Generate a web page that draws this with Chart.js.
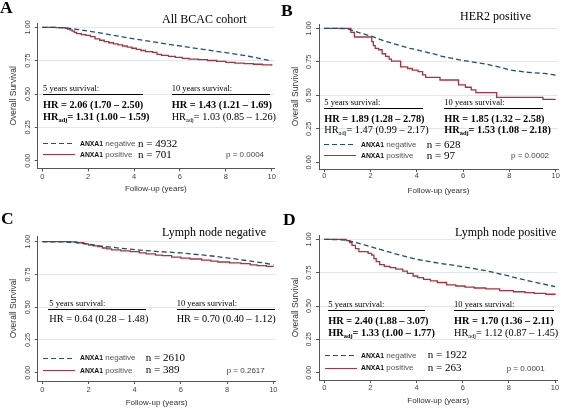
<!DOCTYPE html>
<html>
<head>
<meta charset="utf-8">
<script src="https://cdn.jsdelivr.net/npm/chart.js@4"></script>
<style>
  body { margin: 0; background: #fff; }
  #fig { position: relative; width: 561px; height: 408px; overflow: hidden; background: #fff; }
  canvas { position: absolute; }
  .t { position: absolute; white-space: nowrap; line-height: 1; }
  .serif { font-family: "Liberation Serif", "Times New Roman", serif; color: #000; }
  .sans { font-family: "Liberation Sans", Arial, sans-serif; }
  sub { font-size: 0.62em; vertical-align: -0.32em; line-height: 0; }
  .rule { position: absolute; height: 1.3px; background: #000; }
  .swatch { position: absolute; height: 1.3px; }
</style>
</head>
<body>
<div id="fig">
  <canvas id="pA" width="280" height="200" style="left:0;top:0"></canvas>
  <canvas id="pB" width="281" height="200" style="left:280px;top:0"></canvas>
  <canvas id="pC" width="280" height="208" style="left:0;top:200px"></canvas>
  <canvas id="pD" width="281" height="208" style="left:280px;top:200px"></canvas>
</div>
<script>
// axis ticks
const yearTicks = [0, 2, 4, 6, 8, 10];
const survTicks = [0, 0.25, 0.5, 0.75, 1];

// survival curves (time in years, overall survival)
const aNegT = [0, 0.5, 1, 1.5, 2, 2.5, 3, 3.5, 4, 4.5, 5, 5.5, 6, 6.5, 7, 7.5, 8, 8.5, 9, 9.5, 10];
const aNegS = [1, 0.999, 0.995, 0.985, 0.972, 0.958, 0.943, 0.928, 0.914, 0.900, 0.887, 0.873, 0.860, 0.848, 0.835, 0.822, 0.810, 0.797, 0.783, 0.766, 0.748];
const aPosT = [0, 0.6, 1.0, 1.1, 1.2, 1.3, 1.4, 1.5, 1.7, 1.9, 2.1, 2.3, 2.5, 2.7, 2.9, 3.1, 3.3, 3.5, 3.7, 3.9, 4.1, 4.3, 4.5, 4.8, 5.0, 5.2, 5.5, 5.8, 6.1, 6.4, 6.8, 7.2, 7.6, 8.0, 8.4, 8.8, 9.2, 9.6, 10.0];
const aPosS = [1, 0.997, 0.993, 0.987, 0.98, 0.972, 0.962, 0.952, 0.945, 0.94, 0.93, 0.913, 0.903, 0.893, 0.884, 0.876, 0.868, 0.86, 0.851, 0.843, 0.835, 0.826, 0.818, 0.812, 0.797, 0.79, 0.782, 0.775, 0.767, 0.762, 0.757, 0.751, 0.744, 0.737, 0.732, 0.727, 0.723, 0.718, 0.712];

const bNegT = [0, 0.9, 1.2, 1.5, 1.8, 2.1, 2.4, 2.7, 3.0, 3.4, 3.7, 4.0, 4.4, 4.8, 5.1, 5.5, 5.9, 6.2, 6.6, 7.0, 7.3, 7.7, 8.0, 8.4, 8.8, 9.1, 9.5, 10];
const bNegS = [1, 0.998, 0.985, 0.968, 0.952, 0.937, 0.918, 0.900, 0.885, 0.865, 0.851, 0.84, 0.822, 0.806, 0.79, 0.777, 0.763, 0.755, 0.743, 0.733, 0.721, 0.705, 0.69, 0.68, 0.672, 0.668, 0.663, 0.651];
const bPosT = [0, 1.15, 1.3, 2.05, 2.12, 2.2, 2.35, 2.5, 2.65, 2.8, 2.9, 3.3, 3.6, 3.8, 4.05, 4.25, 4.38, 5.0, 5.8, 6.1, 6.35, 6.55, 7.45, 9.45, 10];
const bPosS = [1, 0.97, 0.935, 0.9, 0.87, 0.85, 0.84, 0.81, 0.79, 0.77, 0.755, 0.712, 0.70, 0.688, 0.677, 0.652, 0.634, 0.614, 0.578, 0.56, 0.54, 0.52, 0.485, 0.47, 0.47];

const cNegT = [0, 1, 1.5, 2, 2.5, 3, 3.5, 4, 4.5, 5, 5.5, 6, 6.5, 7, 7.5, 8, 8.5, 9, 9.5, 10];
const cNegS = [1, 0.998, 0.993, 0.982, 0.968, 0.958, 0.948, 0.94, 0.932, 0.925, 0.92, 0.914, 0.905, 0.897, 0.888, 0.876, 0.865, 0.852, 0.84, 0.824];
const cPosT = [0, 1.2, 1.5, 1.8, 2.0, 2.2, 2.4, 2.6, 2.8, 3.0, 3.4, 3.8, 4.2, 4.5, 4.9, 5.2, 5.6, 6.0, 6.4, 6.9, 7.3, 7.6, 8.1, 8.6, 9.0, 9.3, 9.7, 10];
const cPosS = [1, 0.998, 0.992, 0.983, 0.975, 0.968, 0.962, 0.952, 0.945, 0.938, 0.93, 0.924, 0.915, 0.907, 0.898, 0.893, 0.882, 0.874, 0.868, 0.86, 0.852, 0.845, 0.838, 0.832, 0.823, 0.818, 0.812, 0.81];

const dNegT = [0, 0.5, 1, 1.5, 2, 2.5, 3, 3.5, 4, 4.5, 5, 5.5, 6, 6.5, 7, 7.5, 8, 8.5, 9, 9.5, 10];
const dNegS = [1, 0.998, 0.992, 0.97, 0.945, 0.92, 0.895, 0.872, 0.85, 0.835, 0.82, 0.808, 0.795, 0.78, 0.765, 0.745, 0.725, 0.703, 0.683, 0.665, 0.645];
const dPosT = [0, 0.95, 1.1, 1.2, 1.35, 1.5, 1.9, 2.05, 2.15, 2.25, 2.4, 2.6, 2.85, 3.1, 3.4, 3.6, 3.85, 4.05, 4.3, 4.6, 4.9, 5.3, 5.7, 6.1, 6.5, 7.0, 7.6, 8.2, 8.7, 9.1, 9.6, 10];
const dPosS = [1, 0.99, 0.975, 0.955, 0.93, 0.907, 0.895, 0.882, 0.855, 0.832, 0.81, 0.797, 0.787, 0.776, 0.762, 0.745, 0.725, 0.712, 0.70, 0.688, 0.676, 0.658, 0.65, 0.642, 0.635, 0.628, 0.615, 0.607, 0.60, 0.595, 0.588, 0.582];

// panel texts
const panelLetters = ["A", "B", "C", "D"];
const panelTitles = ["All BCAC cohort", "HER2 positive", "Lymph node negative", "Lymph node positive"];
const hr5 = ["2.06 (1.70 – 2.50)", "1.89 (1.28 – 2.78)", "0.64 (0.28 – 1.48)", "2.40 (1.88 – 3.07)"];
const hr5Bold = [true, true, false, true];
const adj5 = ["1.31 (1.00 – 1.59)", "1.47 (0.99 – 2.17)", null, "1.33 (1.00 – 1.77)"];
const adj5Bold = [true, false, false, true];
const hr10 = ["1.43 (1.21 – 1.69)", "1.85 (1.32 – 2.58)", "0.70 (0.40 – 1.12)", "1.70 (1.36 – 2.11)"];
const hr10Bold = [true, true, false, true];
const adj10 = ["1.03 (0.85 – 1.26)", "1.53 (1.08 – 2.18)", null, "1.12 (0.87 – 1.45)"];
const adj10Bold = [false, true, false, false];
const nNeg = [4932, 628, 2610, 1922];
const nPos = [701, 97, 389, 263];
const pVals = ["0.0004", "0.0002", "0.2617", "0.0001"];

const BLUE = "#1f4e79";
const RED = "#a8323e";
const SANS = '"Liberation Sans", Arial, sans-serif';

function pts(ts, ss) {
  return ts.map((t, i) => ({ x: t, y: ss[i] }));
}

// plot geometry per panel (canvas pixels)
const geo = [
  { W: 280, H: 200, left: 37.7, right: 274, top: 23.3, bottom: 168.3, x0: 42.3, x10: 271.7, y1: 27.3, y0: 160.7, xTickPad: 1.8, xTitlePad: 6.2, yTitlePad: 8.6 },
  { W: 281, H: 200, left: 39, right: 278, top: 24, bottom: 169, x0: 44.3, x10: 275.7, y1: 28.3, y0: 162.3, xTickPad: 0.3, xTitlePad: 4.5, yTitlePad: 10.4 },
  { W: 280, H: 208, left: 37.7, right: 275.5, top: 36, bottom: 181, x0: 42.3, x10: 273.3, y1: 41.7, y0: 172.7, xTickPad: 2.2, xTitlePad: 0.5, yTitlePad: 8.2 },
  { W: 281, H: 208, left: 39, right: 277.5, top: 35, bottom: 180, x0: 44.3, x10: 275, y1: 39.3, y0: 172.7, xTickPad: 1.0, xTitlePad: 2.2, yTitlePad: 10.2 }
];

function drawPanel(id, g, negT, negS, posT, posS) {
  const ppy = (g.x10 - g.x0) / 10;
  const ppu = g.y0 - g.y1;
  new Chart(document.getElementById(id), {
    type: "line",
    data: {
      datasets: [
        { data: pts(negT, negS), borderColor: BLUE, borderWidth: 1.3, borderDash: [5, 3], pointRadius: 0, tension: 0 },
        { data: pts(posT, posS), borderColor: RED, borderWidth: 1.3, pointRadius: 0, stepped: true }
      ]
    },
    options: {
      responsive: false,
      animation: false,
      events: [],
      layout: { padding: { left: 0, top: g.top, right: g.W - g.right, bottom: 0 } },
      plugins: { legend: { display: false }, tooltip: { enabled: false } },
      scales: {
        x: {
          type: "linear",
          min: -(g.x0 - g.left) / ppy,
          max: 10 + (g.right - g.x10) / ppy,
          afterBuildTicks: s => { s.ticks = yearTicks.map(v => ({ value: v })); },
          afterFit: s => { s.height = g.H - g.bottom; },
          ticks: { color: "#444", font: { family: SANS, size: 7.5, lineHeight: 1 }, padding: g.xTickPad, maxRotation: 0 },
          grid: { drawOnChartArea: false, tickLength: 3, tickColor: "#555" },
          border: { color: "#555", width: 1 },
          title: { display: true, text: "Follow-up (years)", color: "#333", font: { family: SANS, size: 8 }, padding: { top: 0, bottom: g.xTitlePad } }
        },
        y: {
          min: -(g.bottom - g.y0) / ppu,
          max: 1 + (g.y1 - g.top) / ppu,
          afterBuildTicks: s => { s.ticks = survTicks.map(v => ({ value: v })); },
          afterFit: s => { s.width = g.left; },
          ticks: {
            color: "#444", font: { family: SANS, size: 7.3, lineHeight: 1 },
            minRotation: 90, maxRotation: 90, crossAlign: "center", padding: 0,
            callback: v => v.toFixed(2)
          },
          grid: {
            tickLength: 3, tickColor: "#555",
            color: c => (c.tick && c.tick.value > 0) ? "#dde9ef" : "rgba(0,0,0,0)"
          },
          border: { color: "#555", width: 1 },
          title: { display: true, text: "Overall Survival", color: "#333", font: { family: SANS, size: 8.5 }, padding: { top: g.yTitlePad, bottom: 0 } }
        }
      }
    }
  });
}

drawPanel("pA", geo[0], aNegT, aNegS, aPosT, aPosS);
drawPanel("pB", geo[1], bNegT, bNegS, bPosT, bPosS);
drawPanel("pC", geo[2], cNegT, cNegS, cPosT, cPosS);
drawPanel("pD", geo[3], dNegT, dNegS, dPosT, dPosS);

// text overlays (page pixels)
const fig = document.getElementById("fig");
const lay = [
  { letter: [0, 13.3], title: [162, 23], c1: 43, c2: 171.7, r1: [43, 143], r2: [171.7, 270], rule: 95, hr: 108.5, adj: 120.5, lg: [144, 155], sx: [43, 75], lx: 80, nx: 138, px: 226 },
  { letter: [281, 16.5], title: [460, 20.5], c1: 324.3, c2: 444.3, r1: [324.3, 423.3], r2: [444.3, 543.3], rule: 108.5, hr: 122.5, adj: 134, lg: [145, 156], sx: [324.3, 356.7], lx: 361, nx: 426.7, px: 511 },
  { letter: [1, 225], title: [162, 236.5], c1: 49.3, c2: 176.7, r1: [48.3, 146.7], r2: [176.7, 275], rule: 309.3, hr: 322.5, adj: 334, lg: [358.3, 370.7], sx: [43.3, 75], lx: 80, nx: 145.7, px: 226.7 },
  { letter: [283, 225.5], title: [455, 236], c1: 328.3, c2: 454, r1: [328.3, 425], r2: [454, 554], rule: 311, hr: 324.5, adj: 336.5, lg: [355.7, 368.3], sx: [325, 356.7], lx: 361, nx: 427.7, px: 506.7 }
];

function txt(x, base, fs, html, cls, extra) {
  const d = document.createElement("div");
  d.className = "t " + cls;
  d.style.left = x + "px";
  d.style.top = (base - 0.84 * fs) + "px";
  d.style.fontSize = fs + "px";
  if (extra) Object.assign(d.style, extra);
  d.innerHTML = html;
  fig.appendChild(d);
}

function box(cls, x, y, w, extra) {
  const d = document.createElement("div");
  d.className = cls;
  d.style.left = Math.round(x) + "px";
  d.style.top = Math.round(y) + "px";
  d.style.width = Math.round(w) + "px";
  if (extra) Object.assign(d.style, extra);
  fig.appendChild(d);
}

lay.forEach((L, i) => {
  txt(L.letter[0], L.letter[1], 17.5, panelLetters[i], "serif", { fontWeight: "bold" });
  txt(L.title[0], L.title[1], 12, panelTitles[i], "serif");

  txt(L.c1, L.rule - 3.5, 8.5, "5 years survival:", "serif");
  txt(L.c2, L.rule - 3.5, 8.5, "10 years survival:", "serif");
  box("rule", L.r1[0], L.rule - 0.6, L.r1[1] - L.r1[0]);
  box("rule", L.r2[0], L.rule - 0.6, L.r2[1] - L.r2[0]);

  txt(L.c1, L.hr, 10.3, "HR = " + hr5[i], "serif", { fontWeight: hr5Bold[i] ? "bold" : "normal" });
  txt(L.c2, L.hr, 10.3, "HR = " + hr10[i], "serif", { fontWeight: hr10Bold[i] ? "bold" : "normal" });
  if (adj5[i]) txt(L.c1, L.adj, 10.3, "HR<sub>adj</sub>= " + adj5[i], "serif", { fontWeight: adj5Bold[i] ? "bold" : "normal" });
  if (adj10[i]) txt(L.c2, L.adj, 10.3, "HR<sub>adj</sub>= " + adj10[i], "serif", { fontWeight: adj10Bold[i] ? "bold" : "normal" });

  // legend
  box("swatch", L.sx[0], L.lg[0] - 0.6, L.sx[1] - L.sx[0], { background: "repeating-linear-gradient(90deg," + BLUE + " 0 5px, transparent 5px 8px)" });
  box("swatch", L.sx[0], L.lg[1] - 0.6, L.sx[1] - L.sx[0], { background: RED });
  const lab = s => '<span style="font-weight:bold;font-size:6.8px;color:#111">ANXA1</span> <span style="color:#555">' + s + "</span>";
  txt(L.lx, L.lg[0] + 2.6, 8, lab("negative"), "sans");
  txt(L.lx, L.lg[1] + 2.6, 8, lab("positive"), "sans");
  txt(L.nx, L.lg[0] + 3, 11, "n = " + nNeg[i], "serif");
  txt(L.nx, L.lg[1] + 3, 11, "n = " + nPos[i], "serif");
  txt(L.px, L.lg[1] + 3, 8, "p = " + pVals[i], "sans", { color: "#444" });
});
</script>
</body>
</html>
